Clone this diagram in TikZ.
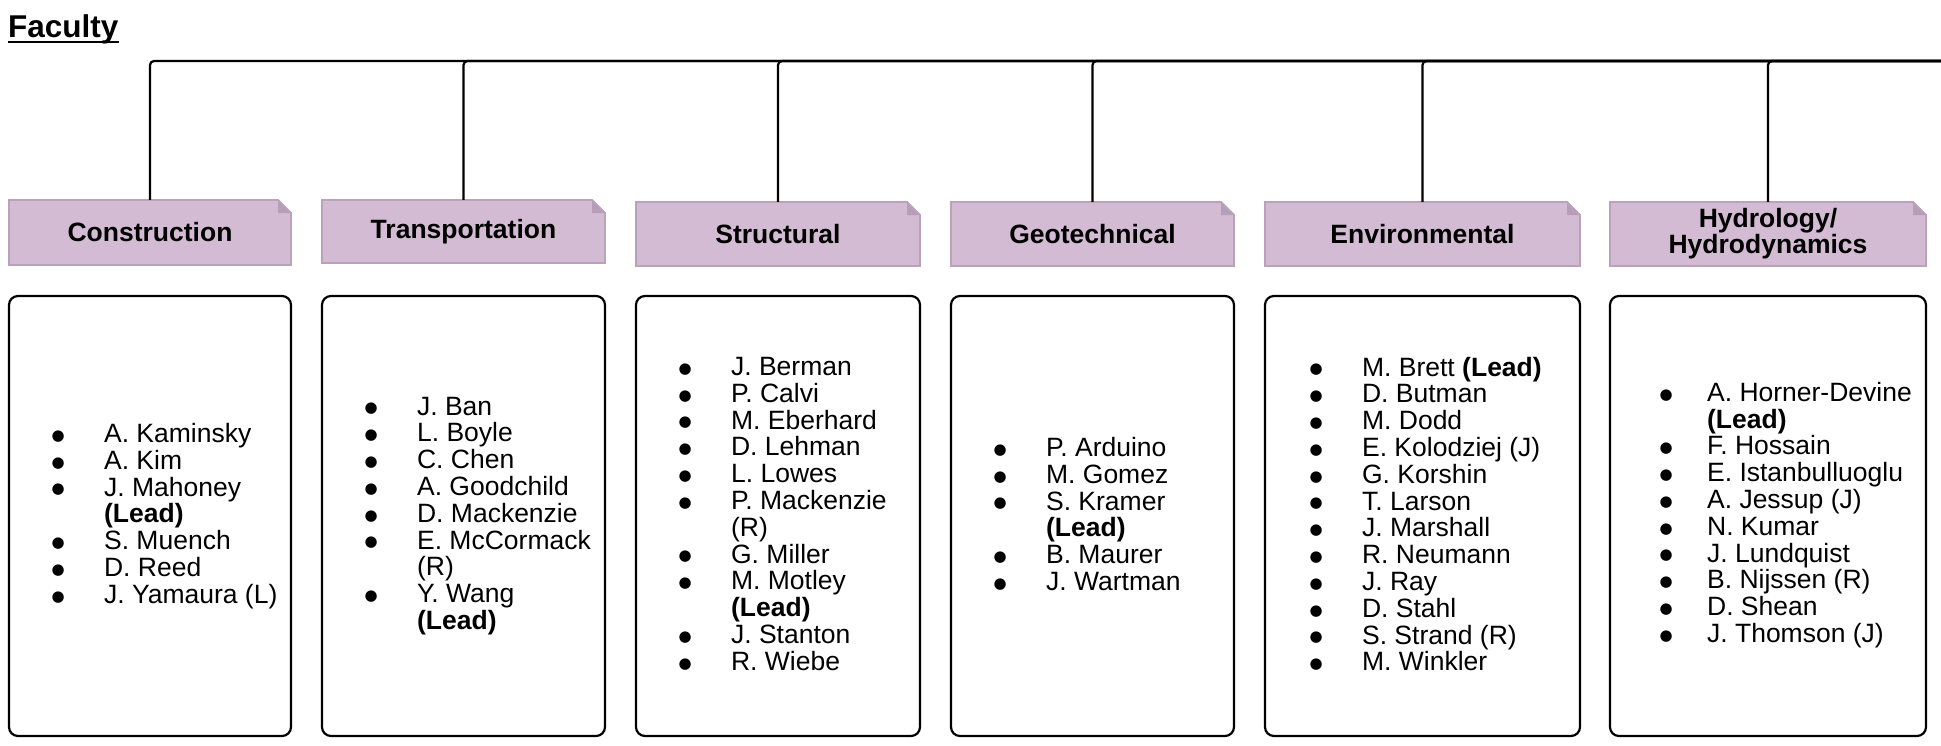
\documentclass[tikz,border=0pt]{standalone}
\usepackage{fontspec}
\setmainfont{Liberation Sans}
\newfontfamily\symfont{DejaVu Sans}
\definecolor{hdrfill}{HTML}{D2BBD3}
\definecolor{hdrline}{HTML}{B9A2BA}
\definecolor{foldfill}{HTML}{B79EB8}
\newcommand{\bdot}{\raisebox{2.2pt}{\symfont\fontsize{15}{0}\selectfont ●}}
\newcommand{\bl}{\makebox[52.6pt][l]{\bdot}}
\newcommand{\ind}{\hspace*{52.6pt}}
\newcommand{\blh}{\makebox[47.6pt][l]{\bdot}}
\newcommand{\indh}{\hspace*{47.6pt}}
\newcommand{\lead}{\textbf{(Lead)}}
\newcommand{\mkhdr}[6]{%
  \pgfmathsetmacro{\fx}{#4-13}\pgfmathsetmacro{\fy}{#3+13}%
  \fill[hdrfill] (#2,#3) -- (\fx,#3) -- (#4,\fy) -- (#4,#5) -- (#2,#5) -- cycle;
  \fill[foldfill] (\fx,#3) -- (\fx,\fy) -- (#4,\fy) -- cycle;
  \draw[hdrline,line width=1.8pt,line join=miter] (#2,#3) -- (\fx,#3) -- (#4,\fy) -- (#4,#5) -- (#2,#5) -- cycle;
  \node[htext,minimum width={(#4-#2)*1pt},minimum height={(#5-#3)*1pt}] (#1) at ({(#2+#4)/2},{(#3+#5)/2}) {#6};
}
\begin{document}
\begin{tikzpicture}[x=1pt,y=-1pt,
  htext/.style={font=\bfseries\fontsize{26.5}{24.5}\selectfont,align=center,inner sep=0pt,text=black},
  bodybox/.style={draw=black,line width=2.2pt,rounded corners=9pt,inner sep=0pt},
  conn/.style={draw=black,line width=2.2pt,rounded corners=4pt},
  names/.style={anchor=west,align=left,inner sep=0pt,font=\fontsize{26.5}{26.8}\selectfont}]
\useasboundingbox (0,0) rectangle (1941,745);
\fill[white] (0,0) rectangle (1941,745);

% title
\node[anchor=base west,inner sep=0pt,font=\bfseries\fontsize{31.5}{33}\selectfont] (fac) at (8,37) {Faculty};
\draw[line width=2.2pt] ([yshift=-5pt]fac.base west) -- ([yshift=-5pt]fac.base east);

% headers
\mkhdr{hC}{9}{200}{291}{265}{Construction}
\mkhdr{hT}{322}{200}{605}{263}{Transportation}
\mkhdr{hS}{636}{202}{920}{266}{Structural}
\mkhdr{hG}{951}{202}{1234}{266}{Geotechnical}
\mkhdr{hE}{1265}{202}{1580}{266}{Environmental}
\mkhdr{hH}{1610}{202}{1926}{266}{Hydrology/\\Hydrodynamics}

% connectors
\coordinate (busR) at (1946,61);
\foreach \h in {hC,hT,hS,hG,hE,hH}{
  \draw[conn] (busR) -| (\h.north);
}

% body boxes
\node[bodybox,minimum width=282pt,minimum height=440pt] (bC) at (150,516) {};
\node[bodybox,minimum width=283pt,minimum height=440pt] (bT) at (463.5,516) {};
\node[bodybox,minimum width=284pt,minimum height=440pt] (bS) at (778,516) {};
\node[bodybox,minimum width=283pt,minimum height=440pt] (bG) at (1092.5,516) {};
\node[bodybox,minimum width=315pt,minimum height=440pt] (bE) at (1422.5,516) {};
\node[bodybox,minimum width=316pt,minimum height=440pt] (bH) at (1768,516) {};

% name lists
\node[names] (lC) at ([xshift=43.4pt,yshift=0pt]bC.west) {%
\bl A. Kaminsky\\ \bl A. Kim\\ \bl J. Mahoney\\ \ind\lead\\ \bl S. Muench\\ \bl D. Reed\\ \bl J. Yamaura (L)};
\node[names] (lT) at ([xshift=43.4pt,yshift=0pt]bT.west) {%
\bl J. Ban\\ \bl L. Boyle\\ \bl C. Chen\\ \bl A. Goodchild\\ \bl D. Mackenzie\\ \bl E. McCormack\\ \ind(R)\\ \bl Y. Wang\\ \ind\lead};
\node[names] (lS) at ([xshift=43.4pt,yshift=2pt]bS.west) {%
\bl J. Berman\\ \bl P. Calvi\\ \bl M. Eberhard\\ \bl D. Lehman\\ \bl L. Lowes\\ \bl P. Mackenzie\\ \ind(R)\\ \bl G. Miller\\ \bl M. Motley\\ \ind\lead\\ \bl J. Stanton\\ \bl R. Wiebe};
\node[names] (lG) at ([xshift=43.4pt,yshift=2pt]bG.west) {%
\bl P. Arduino\\ \bl M. Gomez\\ \bl S. Kramer\\ \ind\lead\\ \bl B. Maurer\\ \bl J. Wartman};
\node[names] (lE) at ([xshift=45.4pt,yshift=2pt]bE.west) {%
\bl M. Brett \lead\\ \bl D. Butman\\ \bl M. Dodd\\ \bl E. Kolodziej (J)\\ \bl G. Korshin\\ \bl T. Larson\\ \bl J. Marshall\\ \bl R. Neumann\\ \bl J. Ray\\ \bl D. Stahl\\ \bl S. Strand (R)\\ \bl M. Winkler};
\node[names] (lH) at ([xshift=50.4pt,yshift=1pt]bH.west) {%
\blh A. Horner-Devine\\ \indh\lead\\ \blh F. Hossain\\ \blh E. Istanbulluoglu\\ \blh A. Jessup (J)\\ \blh N. Kumar\\ \blh J. Lundquist\\ \blh B. Nijssen (R)\\ \blh D. Shean\\ \blh J. Thomson (J)};
\end{tikzpicture}
\end{document}
